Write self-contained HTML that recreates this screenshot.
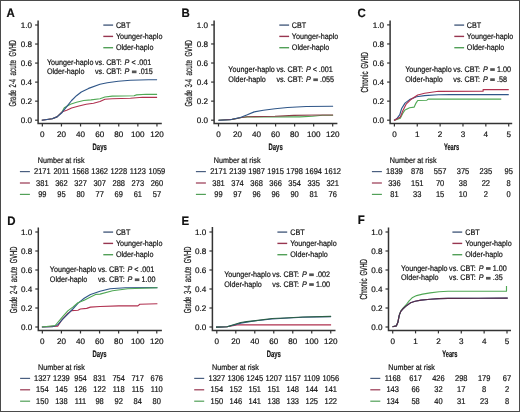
<!DOCTYPE html>
<html><head><meta charset="utf-8"><style>
html,body{margin:0;padding:0;background:#fff;}
body{width:520px;height:412px;overflow:hidden;position:relative;}
svg{position:absolute;left:0;top:0;will-change:transform;}
svg text{text-rendering:geometricPrecision;font-family:"Liberation Sans", sans-serif;fill:#111;stroke:#111;stroke-width:0.18px;}
</style></head><body>
<svg width="520" height="412" viewBox="0 0 520 412">
<rect x="0.5" y="0.5" width="519" height="411" fill="#fff" stroke="#4a4a4a" stroke-width="1"/>
<text transform="translate(6.50 16.50) scale(0.94 1)" font-size="12.2" font-weight="bold" fill="#111" stroke-width="0.3">A</text>
<path d="M38.10 20.60V123.50H161.80" fill="none" stroke="#333" stroke-width="1.5"/>
<path d="M35.10 120.20H38.10" stroke="#333" stroke-width="1.2"/>
<text transform="translate(32.10 123.00) scale(1.07 1.05)" font-size="7.6" text-anchor="end" >0.0</text>
<path d="M35.10 101.16H38.10" stroke="#333" stroke-width="1.2"/>
<text transform="translate(32.10 103.96) scale(1.07 1.05)" font-size="7.6" text-anchor="end" >0.2</text>
<path d="M35.10 82.12H38.10" stroke="#333" stroke-width="1.2"/>
<text transform="translate(32.10 84.92) scale(1.07 1.05)" font-size="7.6" text-anchor="end" >0.4</text>
<path d="M35.10 63.08H38.10" stroke="#333" stroke-width="1.2"/>
<text transform="translate(32.10 65.88) scale(1.07 1.05)" font-size="7.6" text-anchor="end" >0.6</text>
<path d="M35.10 44.04H38.10" stroke="#333" stroke-width="1.2"/>
<text transform="translate(32.10 46.84) scale(1.07 1.05)" font-size="7.6" text-anchor="end" >0.8</text>
<path d="M35.10 25.00H38.10" stroke="#333" stroke-width="1.2"/>
<text transform="translate(32.10 27.80) scale(1.07 1.05)" font-size="7.6" text-anchor="end" >1.0</text>
<path d="M42.35 123.50V126.50" stroke="#333" stroke-width="1.2"/>
<text transform="translate(42.35 137.10) scale(1.07 1.05)" font-size="7.6" text-anchor="middle" >0</text>
<path d="M61.45 123.50V126.50" stroke="#333" stroke-width="1.2"/>
<text transform="translate(61.45 137.10) scale(1.07 1.05)" font-size="7.6" text-anchor="middle" >20</text>
<path d="M80.55 123.50V126.50" stroke="#333" stroke-width="1.2"/>
<text transform="translate(80.55 137.10) scale(1.07 1.05)" font-size="7.6" text-anchor="middle" >40</text>
<path d="M99.65 123.50V126.50" stroke="#333" stroke-width="1.2"/>
<text transform="translate(99.65 137.10) scale(1.07 1.05)" font-size="7.6" text-anchor="middle" >60</text>
<path d="M118.75 123.50V126.50" stroke="#333" stroke-width="1.2"/>
<text transform="translate(118.75 137.10) scale(1.07 1.05)" font-size="7.6" text-anchor="middle" >80</text>
<path d="M137.85 123.50V126.50" stroke="#333" stroke-width="1.2"/>
<text transform="translate(137.85 137.10) scale(1.07 1.05)" font-size="7.6" text-anchor="middle" >100</text>
<path d="M156.95 123.50V126.50" stroke="#333" stroke-width="1.2"/>
<text transform="translate(156.95 137.10) scale(1.07 1.05)" font-size="7.6" text-anchor="middle" >120</text>
<text transform="translate(99.65 150.10) scale(0.638 1)" font-size="9.3" font-weight="bold" text-anchor="middle" stroke-width="0.15">Days</text>
<text transform="translate(16.00 48.25) rotate(-90) scale(0.558 1)" font-size="10.2" text-anchor="middle" stroke-width="0.65">GVHD</text>
<text transform="translate(16.00 67.80) rotate(-90) scale(0.617 1)" font-size="10.2" text-anchor="middle" stroke-width="0.65">acute</text>
<text transform="translate(16.00 83.15) rotate(-90) scale(0.578 1)" font-size="10.2" text-anchor="middle" stroke-width="0.65">2-4</text>
<text transform="translate(16.00 98.25) rotate(-90) scale(0.578 1)" font-size="10.2" text-anchor="middle" stroke-width="0.65">Grade</text>
<path d="M103.30 25.10H113.10" stroke="#4a5f80" stroke-width="1.4"/>
<text transform="translate(115.90 27.60) scale(1.0 1.12)" font-size="7.2" text-anchor="start" >CBT</text>
<path d="M103.30 36.40H113.10" stroke="#983650" stroke-width="1.4"/>
<text transform="translate(115.90 38.90) scale(1.0 1.12)" font-size="7.2" text-anchor="start" >Younger-haplo</text>
<path d="M103.30 47.70H113.10" stroke="#52a058" stroke-width="1.4"/>
<text transform="translate(115.90 50.20) scale(1.0 1.12)" font-size="7.2" text-anchor="start" >Older-haplo</text>
<text transform="translate(46.90 64.50) scale(1.0 1.12)" font-size="7.2" text-anchor="start" >Younger-haplo</text>
<text transform="translate(95.00 64.50) scale(1.0 1.12)" font-size="7.2" text-anchor="start" >vs. CBT:</text>
<text transform="translate(124.60 64.50) scale(1.0 1.12)" font-size="7.2" text-anchor="start" font-style="italic">P</text>
<text transform="translate(131.40 64.50) scale(1.0 1.12)" font-size="7.2" text-anchor="start" >&lt;</text>
<text transform="translate(137.30 64.50) scale(1.0 1.12)" font-size="7.2" text-anchor="start" >.001</text>
<text transform="translate(46.90 74.00) scale(1.0 1.12)" font-size="7.2" text-anchor="start" >Older-haplo</text>
<text transform="translate(95.00 74.00) scale(1.0 1.12)" font-size="7.2" text-anchor="start" >vs. CBT:</text>
<text transform="translate(124.60 74.00) scale(1.0 1.12)" font-size="7.2" text-anchor="start" font-style="italic">P</text>
<rect x="131.90" y="70.50" width="4.6" height="2.7" fill="#555"/>
<text transform="translate(138.70 74.00) scale(1.0 1.12)" font-size="7.2" text-anchor="start" >.015</text>
<text transform="translate(37.80 162.80) scale(1.0 1.12)" font-size="7.2" text-anchor="start" >Number at risk</text>
<path d="M19.90 171.60H29.90" stroke="#4a5f80" stroke-width="1.2"/>
<text transform="translate(42.35 174.20) scale(1.0 1.12)" font-size="7.5" text-anchor="middle" >2171</text>
<text transform="translate(61.45 174.20) scale(1.0 1.12)" font-size="7.5" text-anchor="middle" >2011</text>
<text transform="translate(80.55 174.20) scale(1.0 1.12)" font-size="7.5" text-anchor="middle" >1568</text>
<text transform="translate(99.65 174.20) scale(1.0 1.12)" font-size="7.5" text-anchor="middle" >1362</text>
<text transform="translate(118.75 174.20) scale(1.0 1.12)" font-size="7.5" text-anchor="middle" >1228</text>
<text transform="translate(137.85 174.20) scale(1.0 1.12)" font-size="7.5" text-anchor="middle" >1123</text>
<text transform="translate(156.95 174.20) scale(1.0 1.12)" font-size="7.5" text-anchor="middle" >1059</text>
<path d="M19.90 183.00H29.90" stroke="#983650" stroke-width="1.2"/>
<text transform="translate(42.35 185.60) scale(1.0 1.12)" font-size="7.5" text-anchor="middle" >381</text>
<text transform="translate(61.45 185.60) scale(1.0 1.12)" font-size="7.5" text-anchor="middle" >362</text>
<text transform="translate(80.55 185.60) scale(1.0 1.12)" font-size="7.5" text-anchor="middle" >327</text>
<text transform="translate(99.65 185.60) scale(1.0 1.12)" font-size="7.5" text-anchor="middle" >307</text>
<text transform="translate(118.75 185.60) scale(1.0 1.12)" font-size="7.5" text-anchor="middle" >288</text>
<text transform="translate(137.85 185.60) scale(1.0 1.12)" font-size="7.5" text-anchor="middle" >273</text>
<text transform="translate(156.95 185.60) scale(1.0 1.12)" font-size="7.5" text-anchor="middle" >260</text>
<path d="M19.90 194.40H29.90" stroke="#52a058" stroke-width="1.2"/>
<text transform="translate(42.35 197.00) scale(1.0 1.12)" font-size="7.5" text-anchor="middle" >99</text>
<text transform="translate(61.45 197.00) scale(1.0 1.12)" font-size="7.5" text-anchor="middle" >95</text>
<text transform="translate(80.55 197.00) scale(1.0 1.12)" font-size="7.5" text-anchor="middle" >80</text>
<text transform="translate(99.65 197.00) scale(1.0 1.12)" font-size="7.5" text-anchor="middle" >77</text>
<text transform="translate(118.75 197.00) scale(1.0 1.12)" font-size="7.5" text-anchor="middle" >69</text>
<text transform="translate(137.85 197.00) scale(1.0 1.12)" font-size="7.5" text-anchor="middle" >61</text>
<text transform="translate(156.95 197.00) scale(1.0 1.12)" font-size="7.5" text-anchor="middle" >57</text>
<path d="M41.80 120.20 L52.20 118.70 L57.00 116.90 L61.90 112.20 L64.30 107.80 L70.40 104.20 L76.50 102.30 L83.70 100.50 L91.00 99.90 L100.00 98.80 L104.90 97.00 L112.20 96.10 L134.00 95.80 L136.50 94.90 L146.20 94.30 L157.10 94.30" fill="none" stroke="#50a855" stroke-width="1.15" stroke-linejoin="round"/>
<path d="M41.80 120.20 L52.20 118.70 L57.00 116.90 L61.90 112.20 L63.10 111.50 L66.70 110.20 L71.60 108.00 L78.90 106.00 L86.20 104.20 L93.50 103.20 L100.00 101.50 L104.90 99.20 L112.20 98.80 L130.40 98.20 L142.50 97.30 L157.10 97.30" fill="none" stroke="#b0304f" stroke-width="1.15" stroke-linejoin="round"/>
<path d="M41.80 120.20 L52.20 118.70 L57.00 116.90 L61.90 112.70 L66.70 106.60 L71.60 100.50 L76.50 95.70 L81.30 92.00 L88.60 88.40 L100.00 84.20 L107.30 82.80 L118.20 81.20 L130.40 80.30 L148.60 79.70 L157.10 79.70" fill="none" stroke="#2f5688" stroke-width="1.15" stroke-linejoin="round"/>
<text transform="translate(181.40 16.80) scale(0.94 1)" font-size="12.2" font-weight="bold" fill="#111" stroke-width="0.3">B</text>
<path d="M214.10 20.40V123.50H337.40" fill="none" stroke="#333" stroke-width="1.5"/>
<path d="M211.10 120.20H214.10" stroke="#333" stroke-width="1.2"/>
<text transform="translate(208.10 123.00) scale(1.07 1.05)" font-size="7.6" text-anchor="end" >0.0</text>
<path d="M211.10 101.14H214.10" stroke="#333" stroke-width="1.2"/>
<text transform="translate(208.10 103.94) scale(1.07 1.05)" font-size="7.6" text-anchor="end" >0.2</text>
<path d="M211.10 82.08H214.10" stroke="#333" stroke-width="1.2"/>
<text transform="translate(208.10 84.88) scale(1.07 1.05)" font-size="7.6" text-anchor="end" >0.4</text>
<path d="M211.10 63.02H214.10" stroke="#333" stroke-width="1.2"/>
<text transform="translate(208.10 65.82) scale(1.07 1.05)" font-size="7.6" text-anchor="end" >0.6</text>
<path d="M211.10 43.96H214.10" stroke="#333" stroke-width="1.2"/>
<text transform="translate(208.10 46.76) scale(1.07 1.05)" font-size="7.6" text-anchor="end" >0.8</text>
<path d="M211.10 24.90H214.10" stroke="#333" stroke-width="1.2"/>
<text transform="translate(208.10 27.70) scale(1.07 1.05)" font-size="7.6" text-anchor="end" >1.0</text>
<path d="M218.50 123.50V126.50" stroke="#333" stroke-width="1.2"/>
<text transform="translate(218.50 137.10) scale(1.07 1.05)" font-size="7.6" text-anchor="middle" >0</text>
<path d="M237.53 123.50V126.50" stroke="#333" stroke-width="1.2"/>
<text transform="translate(237.53 137.10) scale(1.07 1.05)" font-size="7.6" text-anchor="middle" >20</text>
<path d="M256.56 123.50V126.50" stroke="#333" stroke-width="1.2"/>
<text transform="translate(256.56 137.10) scale(1.07 1.05)" font-size="7.6" text-anchor="middle" >40</text>
<path d="M275.59 123.50V126.50" stroke="#333" stroke-width="1.2"/>
<text transform="translate(275.59 137.10) scale(1.07 1.05)" font-size="7.6" text-anchor="middle" >60</text>
<path d="M294.62 123.50V126.50" stroke="#333" stroke-width="1.2"/>
<text transform="translate(294.62 137.10) scale(1.07 1.05)" font-size="7.6" text-anchor="middle" >80</text>
<path d="M313.65 123.50V126.50" stroke="#333" stroke-width="1.2"/>
<text transform="translate(313.65 137.10) scale(1.07 1.05)" font-size="7.6" text-anchor="middle" >100</text>
<path d="M332.68 123.50V126.50" stroke="#333" stroke-width="1.2"/>
<text transform="translate(332.68 137.10) scale(1.07 1.05)" font-size="7.6" text-anchor="middle" >120</text>
<text transform="translate(275.59 150.10) scale(0.638 1)" font-size="9.3" font-weight="bold" text-anchor="middle" stroke-width="0.15">Days</text>
<text transform="translate(191.90 48.25) rotate(-90) scale(0.558 1)" font-size="10.2" text-anchor="middle" stroke-width="0.65">GVHD</text>
<text transform="translate(191.90 67.80) rotate(-90) scale(0.617 1)" font-size="10.2" text-anchor="middle" stroke-width="0.65">acute</text>
<text transform="translate(191.90 83.15) rotate(-90) scale(0.578 1)" font-size="10.2" text-anchor="middle" stroke-width="0.65">3-4</text>
<text transform="translate(191.90 98.25) rotate(-90) scale(0.578 1)" font-size="10.2" text-anchor="middle" stroke-width="0.65">Grade</text>
<path d="M279.30 25.10H289.10" stroke="#4a5f80" stroke-width="1.4"/>
<text transform="translate(291.80 27.60) scale(1.0 1.12)" font-size="7.2" text-anchor="start" >CBT</text>
<path d="M279.30 36.40H289.10" stroke="#983650" stroke-width="1.4"/>
<text transform="translate(291.80 38.90) scale(1.0 1.12)" font-size="7.2" text-anchor="start" >Younger-haplo</text>
<path d="M279.30 47.70H289.10" stroke="#52a058" stroke-width="1.4"/>
<text transform="translate(291.80 50.20) scale(1.0 1.12)" font-size="7.2" text-anchor="start" >Older-haplo</text>
<text transform="translate(228.30 72.10) scale(1.0 1.12)" font-size="7.2" text-anchor="start" >Younger-haplo</text>
<text transform="translate(276.40 72.10) scale(1.0 1.12)" font-size="7.2" text-anchor="start" >vs. CBT:</text>
<text transform="translate(306.00 72.10) scale(1.0 1.12)" font-size="7.2" text-anchor="start" font-style="italic">P</text>
<text transform="translate(312.80 72.10) scale(1.0 1.12)" font-size="7.2" text-anchor="start" >&lt;</text>
<text transform="translate(318.70 72.10) scale(1.0 1.12)" font-size="7.2" text-anchor="start" >.001</text>
<text transform="translate(228.30 81.90) scale(1.0 1.12)" font-size="7.2" text-anchor="start" >Older-haplo</text>
<text transform="translate(276.40 81.90) scale(1.0 1.12)" font-size="7.2" text-anchor="start" >vs. CBT:</text>
<text transform="translate(306.00 81.90) scale(1.0 1.12)" font-size="7.2" text-anchor="start" font-style="italic">P</text>
<rect x="313.30" y="78.40" width="4.6" height="2.7" fill="#555"/>
<text transform="translate(320.10 81.90) scale(1.0 1.12)" font-size="7.2" text-anchor="start" >.055</text>
<text transform="translate(213.80 162.80) scale(1.0 1.12)" font-size="7.2" text-anchor="start" >Number at risk</text>
<path d="M195.90 171.60H205.90" stroke="#4a5f80" stroke-width="1.2"/>
<text transform="translate(218.50 174.20) scale(1.0 1.12)" font-size="7.5" text-anchor="middle" >2171</text>
<text transform="translate(237.53 174.20) scale(1.0 1.12)" font-size="7.5" text-anchor="middle" >2139</text>
<text transform="translate(256.56 174.20) scale(1.0 1.12)" font-size="7.5" text-anchor="middle" >1987</text>
<text transform="translate(275.59 174.20) scale(1.0 1.12)" font-size="7.5" text-anchor="middle" >1915</text>
<text transform="translate(294.62 174.20) scale(1.0 1.12)" font-size="7.5" text-anchor="middle" >1798</text>
<text transform="translate(313.65 174.20) scale(1.0 1.12)" font-size="7.5" text-anchor="middle" >1694</text>
<text transform="translate(332.68 174.20) scale(1.0 1.12)" font-size="7.5" text-anchor="middle" >1612</text>
<path d="M195.90 183.00H205.90" stroke="#983650" stroke-width="1.2"/>
<text transform="translate(218.50 185.60) scale(1.0 1.12)" font-size="7.5" text-anchor="middle" >381</text>
<text transform="translate(237.53 185.60) scale(1.0 1.12)" font-size="7.5" text-anchor="middle" >374</text>
<text transform="translate(256.56 185.60) scale(1.0 1.12)" font-size="7.5" text-anchor="middle" >368</text>
<text transform="translate(275.59 185.60) scale(1.0 1.12)" font-size="7.5" text-anchor="middle" >366</text>
<text transform="translate(294.62 185.60) scale(1.0 1.12)" font-size="7.5" text-anchor="middle" >354</text>
<text transform="translate(313.65 185.60) scale(1.0 1.12)" font-size="7.5" text-anchor="middle" >335</text>
<text transform="translate(332.68 185.60) scale(1.0 1.12)" font-size="7.5" text-anchor="middle" >321</text>
<path d="M195.90 194.40H205.90" stroke="#52a058" stroke-width="1.2"/>
<text transform="translate(218.50 197.00) scale(1.0 1.12)" font-size="7.5" text-anchor="middle" >99</text>
<text transform="translate(237.53 197.00) scale(1.0 1.12)" font-size="7.5" text-anchor="middle" >97</text>
<text transform="translate(256.56 197.00) scale(1.0 1.12)" font-size="7.5" text-anchor="middle" >96</text>
<text transform="translate(275.59 197.00) scale(1.0 1.12)" font-size="7.5" text-anchor="middle" >96</text>
<text transform="translate(294.62 197.00) scale(1.0 1.12)" font-size="7.5" text-anchor="middle" >90</text>
<text transform="translate(313.65 197.00) scale(1.0 1.12)" font-size="7.5" text-anchor="middle" >81</text>
<text transform="translate(332.68 197.00) scale(1.0 1.12)" font-size="7.5" text-anchor="middle" >76</text>
<path d="M218.50 120.20 L232.30 119.40 L241.50 117.50 L247.30 116.90 L275.00 116.90 L300.00 116.90 L312.50 116.25 L322.50 115.25 L333.10 115.25" fill="none" stroke="#50a855" stroke-width="1.15" stroke-linejoin="round"/>
<path d="M218.50 120.20 L232.30 119.40 L241.50 117.50 L247.30 116.80 L275.00 116.25 L293.75 115.40 L318.75 115.00 L333.10 115.00" fill="none" stroke="#8a4048" stroke-width="1.15" stroke-linejoin="round"/>
<path d="M218.50 120.20 L230.00 119.80 L240.40 117.50 L247.30 114.80 L254.20 111.90 L263.40 110.20 L275.00 108.70 L287.50 107.50 L306.25 106.50 L333.10 106.25" fill="none" stroke="#2f5688" stroke-width="1.15" stroke-linejoin="round"/>
<text transform="translate(357.40 16.80) scale(0.94 1)" font-size="12.2" font-weight="bold" fill="#111" stroke-width="0.3">C</text>
<path d="M390.10 20.40V123.40H512.20" fill="none" stroke="#333" stroke-width="1.5"/>
<path d="M387.10 120.20H390.10" stroke="#333" stroke-width="1.2"/>
<text transform="translate(384.10 123.00) scale(1.07 1.05)" font-size="7.6" text-anchor="end" >0.0</text>
<path d="M387.10 101.14H390.10" stroke="#333" stroke-width="1.2"/>
<text transform="translate(384.10 103.94) scale(1.07 1.05)" font-size="7.6" text-anchor="end" >0.2</text>
<path d="M387.10 82.08H390.10" stroke="#333" stroke-width="1.2"/>
<text transform="translate(384.10 84.88) scale(1.07 1.05)" font-size="7.6" text-anchor="end" >0.4</text>
<path d="M387.10 63.02H390.10" stroke="#333" stroke-width="1.2"/>
<text transform="translate(384.10 65.82) scale(1.07 1.05)" font-size="7.6" text-anchor="end" >0.6</text>
<path d="M387.10 43.96H390.10" stroke="#333" stroke-width="1.2"/>
<text transform="translate(384.10 46.76) scale(1.07 1.05)" font-size="7.6" text-anchor="end" >0.8</text>
<path d="M387.10 24.90H390.10" stroke="#333" stroke-width="1.2"/>
<text transform="translate(384.10 27.70) scale(1.07 1.05)" font-size="7.6" text-anchor="end" >1.0</text>
<path d="M394.40 123.40V126.40" stroke="#333" stroke-width="1.2"/>
<text transform="translate(394.40 137.00) scale(1.07 1.05)" font-size="7.6" text-anchor="middle" >0</text>
<path d="M417.26 123.40V126.40" stroke="#333" stroke-width="1.2"/>
<text transform="translate(417.26 137.00) scale(1.07 1.05)" font-size="7.6" text-anchor="middle" >1</text>
<path d="M440.12 123.40V126.40" stroke="#333" stroke-width="1.2"/>
<text transform="translate(440.12 137.00) scale(1.07 1.05)" font-size="7.6" text-anchor="middle" >2</text>
<path d="M462.98 123.40V126.40" stroke="#333" stroke-width="1.2"/>
<text transform="translate(462.98 137.00) scale(1.07 1.05)" font-size="7.6" text-anchor="middle" >3</text>
<path d="M485.84 123.40V126.40" stroke="#333" stroke-width="1.2"/>
<text transform="translate(485.84 137.00) scale(1.07 1.05)" font-size="7.6" text-anchor="middle" >4</text>
<path d="M508.70 123.40V126.40" stroke="#333" stroke-width="1.2"/>
<text transform="translate(508.70 137.00) scale(1.07 1.05)" font-size="7.6" text-anchor="middle" >5</text>
<text transform="translate(451.55 150.00) scale(0.614 1)" font-size="9.3" font-weight="bold" text-anchor="middle" stroke-width="0.15">Years</text>
<text transform="translate(368.40 60.40) rotate(-90) scale(0.558 1)" font-size="10.2" text-anchor="middle" stroke-width="0.65">GVHD</text>
<text transform="translate(368.40 82.00) rotate(-90) scale(0.598 1)" font-size="10.2" text-anchor="middle" stroke-width="0.65">Chronic</text>
<path d="M454.30 25.10H464.10" stroke="#4a5f80" stroke-width="1.4"/>
<text transform="translate(466.80 27.60) scale(1.0 1.12)" font-size="7.2" text-anchor="start" >CBT</text>
<path d="M454.30 36.40H464.10" stroke="#983650" stroke-width="1.4"/>
<text transform="translate(466.80 38.90) scale(1.0 1.12)" font-size="7.2" text-anchor="start" >Younger-haplo</text>
<path d="M454.30 47.70H464.10" stroke="#52a058" stroke-width="1.4"/>
<text transform="translate(466.80 50.20) scale(1.0 1.12)" font-size="7.2" text-anchor="start" >Older-haplo</text>
<text transform="translate(405.20 71.70) scale(1.0 1.12)" font-size="7.2" text-anchor="start" >Younger-haplo</text>
<text transform="translate(453.30 71.70) scale(1.0 1.12)" font-size="7.2" text-anchor="start" >vs. CBT:</text>
<text transform="translate(482.90 71.70) scale(1.0 1.12)" font-size="7.2" text-anchor="start" font-style="italic">P</text>
<rect x="490.20" y="68.20" width="4.6" height="2.7" fill="#555"/>
<text transform="translate(497.00 71.70) scale(1.0 1.12)" font-size="7.2" text-anchor="start" >1.00</text>
<text transform="translate(405.20 81.80) scale(1.0 1.12)" font-size="7.2" text-anchor="start" >Older-haplo</text>
<text transform="translate(453.30 81.80) scale(1.0 1.12)" font-size="7.2" text-anchor="start" >vs. CBT:</text>
<text transform="translate(482.90 81.80) scale(1.0 1.12)" font-size="7.2" text-anchor="start" font-style="italic">P</text>
<rect x="490.20" y="78.30" width="4.6" height="2.7" fill="#555"/>
<text transform="translate(497.00 81.80) scale(1.0 1.12)" font-size="7.2" text-anchor="start" >.58</text>
<text transform="translate(389.80 162.80) scale(1.0 1.12)" font-size="7.2" text-anchor="start" >Number at risk</text>
<path d="M371.90 171.60H381.90" stroke="#4a5f80" stroke-width="1.2"/>
<text transform="translate(394.40 174.20) scale(1.0 1.12)" font-size="7.5" text-anchor="middle" >1839</text>
<text transform="translate(417.26 174.20) scale(1.0 1.12)" font-size="7.5" text-anchor="middle" >878</text>
<text transform="translate(440.12 174.20) scale(1.0 1.12)" font-size="7.5" text-anchor="middle" >557</text>
<text transform="translate(462.98 174.20) scale(1.0 1.12)" font-size="7.5" text-anchor="middle" >375</text>
<text transform="translate(485.84 174.20) scale(1.0 1.12)" font-size="7.5" text-anchor="middle" >235</text>
<text transform="translate(508.70 174.20) scale(1.0 1.12)" font-size="7.5" text-anchor="middle" >95</text>
<path d="M371.90 183.00H381.90" stroke="#983650" stroke-width="1.2"/>
<text transform="translate(394.40 185.60) scale(1.0 1.12)" font-size="7.5" text-anchor="middle" >336</text>
<text transform="translate(417.26 185.60) scale(1.0 1.12)" font-size="7.5" text-anchor="middle" >151</text>
<text transform="translate(440.12 185.60) scale(1.0 1.12)" font-size="7.5" text-anchor="middle" >70</text>
<text transform="translate(462.98 185.60) scale(1.0 1.12)" font-size="7.5" text-anchor="middle" >38</text>
<text transform="translate(485.84 185.60) scale(1.0 1.12)" font-size="7.5" text-anchor="middle" >22</text>
<text transform="translate(508.70 185.60) scale(1.0 1.12)" font-size="7.5" text-anchor="middle" >8</text>
<path d="M371.90 194.40H381.90" stroke="#52a058" stroke-width="1.2"/>
<text transform="translate(394.40 197.00) scale(1.0 1.12)" font-size="7.5" text-anchor="middle" >81</text>
<text transform="translate(417.26 197.00) scale(1.0 1.12)" font-size="7.5" text-anchor="middle" >33</text>
<text transform="translate(440.12 197.00) scale(1.0 1.12)" font-size="7.5" text-anchor="middle" >15</text>
<text transform="translate(462.98 197.00) scale(1.0 1.12)" font-size="7.5" text-anchor="middle" >10</text>
<text transform="translate(485.84 197.00) scale(1.0 1.12)" font-size="7.5" text-anchor="middle" >2</text>
<text transform="translate(508.70 197.00) scale(1.0 1.12)" font-size="7.5" text-anchor="middle" >0</text>
<path d="M394.00 120.40 L400.40 118.10 L402.70 113.40 L405.00 110.00 L409.60 107.70 L414.20 107.10 L416.00 103.10 L417.70 100.50 L426.90 100.20 L428.10 99.10 L501.25 99.10" fill="none" stroke="#50a855" stroke-width="1.15" stroke-linejoin="round"/>
<path d="M394.00 120.40 L396.90 118.60 L399.80 114.60 L401.50 108.80 L405.00 103.10 L409.60 99.60 L416.50 96.70 L424.60 95.60 L438.40 94.80 L450.00 94.60 L508.75 94.60" fill="none" stroke="#2f5688" stroke-width="1.15" stroke-linejoin="round"/>
<path d="M394.00 120.40 L400.40 116.90 L402.70 111.10 L406.10 104.20 L410.80 99.60 L417.70 95.00 L424.60 93.30 L438.40 91.30 L483.10 91.25 L483.10 89.60 L508.75 89.60" fill="none" stroke="#b0304f" stroke-width="1.15" stroke-linejoin="round"/>
<text transform="translate(7.20 224.80) scale(0.94 1)" font-size="12.2" font-weight="bold" fill="#111" stroke-width="0.3">D</text>
<path d="M38.30 227.60V330.50H161.90" fill="none" stroke="#333" stroke-width="1.5"/>
<path d="M35.30 327.00H38.30" stroke="#333" stroke-width="1.2"/>
<text transform="translate(32.30 329.80) scale(1.07 1.05)" font-size="7.6" text-anchor="end" >0.0</text>
<path d="M35.30 308.00H38.30" stroke="#333" stroke-width="1.2"/>
<text transform="translate(32.30 310.80) scale(1.07 1.05)" font-size="7.6" text-anchor="end" >0.2</text>
<path d="M35.30 289.00H38.30" stroke="#333" stroke-width="1.2"/>
<text transform="translate(32.30 291.80) scale(1.07 1.05)" font-size="7.6" text-anchor="end" >0.4</text>
<path d="M35.30 270.00H38.30" stroke="#333" stroke-width="1.2"/>
<text transform="translate(32.30 272.80) scale(1.07 1.05)" font-size="7.6" text-anchor="end" >0.6</text>
<path d="M35.30 251.00H38.30" stroke="#333" stroke-width="1.2"/>
<text transform="translate(32.30 253.80) scale(1.07 1.05)" font-size="7.6" text-anchor="end" >0.8</text>
<path d="M35.30 232.00H38.30" stroke="#333" stroke-width="1.2"/>
<text transform="translate(32.30 234.80) scale(1.07 1.05)" font-size="7.6" text-anchor="end" >1.0</text>
<path d="M42.35 330.50V333.50" stroke="#333" stroke-width="1.2"/>
<text transform="translate(42.35 344.10) scale(1.07 1.05)" font-size="7.6" text-anchor="middle" >0</text>
<path d="M61.42 330.50V333.50" stroke="#333" stroke-width="1.2"/>
<text transform="translate(61.42 344.10) scale(1.07 1.05)" font-size="7.6" text-anchor="middle" >20</text>
<path d="M80.49 330.50V333.50" stroke="#333" stroke-width="1.2"/>
<text transform="translate(80.49 344.10) scale(1.07 1.05)" font-size="7.6" text-anchor="middle" >40</text>
<path d="M99.56 330.50V333.50" stroke="#333" stroke-width="1.2"/>
<text transform="translate(99.56 344.10) scale(1.07 1.05)" font-size="7.6" text-anchor="middle" >60</text>
<path d="M118.63 330.50V333.50" stroke="#333" stroke-width="1.2"/>
<text transform="translate(118.63 344.10) scale(1.07 1.05)" font-size="7.6" text-anchor="middle" >80</text>
<path d="M137.70 330.50V333.50" stroke="#333" stroke-width="1.2"/>
<text transform="translate(137.70 344.10) scale(1.07 1.05)" font-size="7.6" text-anchor="middle" >100</text>
<path d="M156.77 330.50V333.50" stroke="#333" stroke-width="1.2"/>
<text transform="translate(156.77 344.10) scale(1.07 1.05)" font-size="7.6" text-anchor="middle" >120</text>
<text transform="translate(99.56 357.10) scale(0.638 1)" font-size="9.3" font-weight="bold" text-anchor="middle" stroke-width="0.15">Days</text>
<text transform="translate(17.00 254.95) rotate(-90) scale(0.558 1)" font-size="10.2" text-anchor="middle" stroke-width="0.65">GVHD</text>
<text transform="translate(17.00 274.50) rotate(-90) scale(0.617 1)" font-size="10.2" text-anchor="middle" stroke-width="0.65">acute</text>
<text transform="translate(17.00 289.85) rotate(-90) scale(0.578 1)" font-size="10.2" text-anchor="middle" stroke-width="0.65">2-4</text>
<text transform="translate(17.00 304.95) rotate(-90) scale(0.578 1)" font-size="10.2" text-anchor="middle" stroke-width="0.65">Grade</text>
<path d="M103.30 232.10H113.10" stroke="#4a5f80" stroke-width="1.4"/>
<text transform="translate(115.90 234.60) scale(1.0 1.12)" font-size="7.2" text-anchor="start" >CBT</text>
<path d="M103.30 243.40H113.10" stroke="#983650" stroke-width="1.4"/>
<text transform="translate(115.90 245.90) scale(1.0 1.12)" font-size="7.2" text-anchor="start" >Younger-haplo</text>
<path d="M103.30 254.70H113.10" stroke="#52a058" stroke-width="1.4"/>
<text transform="translate(115.90 257.20) scale(1.0 1.12)" font-size="7.2" text-anchor="start" >Older-haplo</text>
<text transform="translate(49.80 272.10) scale(1.0 1.12)" font-size="7.2" text-anchor="start" >Younger-haplo</text>
<text transform="translate(97.90 272.10) scale(1.0 1.12)" font-size="7.2" text-anchor="start" >vs. CBT:</text>
<text transform="translate(127.50 272.10) scale(1.0 1.12)" font-size="7.2" text-anchor="start" font-style="italic">P</text>
<text transform="translate(134.30 272.10) scale(1.0 1.12)" font-size="7.2" text-anchor="start" >&lt;</text>
<text transform="translate(140.20 272.10) scale(1.0 1.12)" font-size="7.2" text-anchor="start" >.001</text>
<text transform="translate(49.80 281.90) scale(1.0 1.12)" font-size="7.2" text-anchor="start" >Older-haplo</text>
<text transform="translate(97.90 281.90) scale(1.0 1.12)" font-size="7.2" text-anchor="start" >vs. CBT:</text>
<text transform="translate(127.50 281.90) scale(1.0 1.12)" font-size="7.2" text-anchor="start" font-style="italic">P</text>
<rect x="134.80" y="278.40" width="4.6" height="2.7" fill="#555"/>
<text transform="translate(141.60 281.90) scale(1.0 1.12)" font-size="7.2" text-anchor="start" >1.00</text>
<text transform="translate(38.00 369.60) scale(1.0 1.12)" font-size="7.2" text-anchor="start" >Number at risk</text>
<path d="M20.10 378.40H30.10" stroke="#4a5f80" stroke-width="1.2"/>
<text transform="translate(42.35 381.00) scale(1.0 1.12)" font-size="7.5" text-anchor="middle" >1327</text>
<text transform="translate(61.42 381.00) scale(1.0 1.12)" font-size="7.5" text-anchor="middle" >1239</text>
<text transform="translate(80.49 381.00) scale(1.0 1.12)" font-size="7.5" text-anchor="middle" >954</text>
<text transform="translate(99.56 381.00) scale(1.0 1.12)" font-size="7.5" text-anchor="middle" >831</text>
<text transform="translate(118.63 381.00) scale(1.0 1.12)" font-size="7.5" text-anchor="middle" >754</text>
<text transform="translate(137.70 381.00) scale(1.0 1.12)" font-size="7.5" text-anchor="middle" >717</text>
<text transform="translate(156.77 381.00) scale(1.0 1.12)" font-size="7.5" text-anchor="middle" >676</text>
<path d="M20.10 389.80H30.10" stroke="#983650" stroke-width="1.2"/>
<text transform="translate(42.35 392.40) scale(1.0 1.12)" font-size="7.5" text-anchor="middle" >154</text>
<text transform="translate(61.42 392.40) scale(1.0 1.12)" font-size="7.5" text-anchor="middle" >145</text>
<text transform="translate(80.49 392.40) scale(1.0 1.12)" font-size="7.5" text-anchor="middle" >126</text>
<text transform="translate(99.56 392.40) scale(1.0 1.12)" font-size="7.5" text-anchor="middle" >122</text>
<text transform="translate(118.63 392.40) scale(1.0 1.12)" font-size="7.5" text-anchor="middle" >118</text>
<text transform="translate(137.70 392.40) scale(1.0 1.12)" font-size="7.5" text-anchor="middle" >115</text>
<text transform="translate(156.77 392.40) scale(1.0 1.12)" font-size="7.5" text-anchor="middle" >110</text>
<path d="M20.10 401.20H30.10" stroke="#52a058" stroke-width="1.2"/>
<text transform="translate(42.35 403.80) scale(1.0 1.12)" font-size="7.5" text-anchor="middle" >150</text>
<text transform="translate(61.42 403.80) scale(1.0 1.12)" font-size="7.5" text-anchor="middle" >138</text>
<text transform="translate(80.49 403.80) scale(1.0 1.12)" font-size="7.5" text-anchor="middle" >111</text>
<text transform="translate(99.56 403.80) scale(1.0 1.12)" font-size="7.5" text-anchor="middle" >98</text>
<text transform="translate(118.63 403.80) scale(1.0 1.12)" font-size="7.5" text-anchor="middle" >92</text>
<text transform="translate(137.70 403.80) scale(1.0 1.12)" font-size="7.5" text-anchor="middle" >84</text>
<text transform="translate(156.77 403.80) scale(1.0 1.12)" font-size="7.5" text-anchor="middle" >80</text>
<path d="M41.90 327.00 L57.70 326.10 L61.50 320.40 L67.80 313.50 L71.60 310.60 L77.90 310.30 L80.40 309.00 L86.70 308.40 L90.50 307.10 L100.00 306.50 L118.90 305.90 L137.90 305.90 L139.80 304.20 L157.40 303.70" fill="none" stroke="#b0304f" stroke-width="1.15" stroke-linejoin="round"/>
<path d="M41.90 327.00 L52.60 326.70 L57.70 324.80 L62.70 319.10 L67.80 314.10 L72.80 309.00 L77.90 303.40 L84.20 298.30 L90.50 294.50 L100.00 291.30 L110.10 288.80 L125.30 287.80 L157.40 287.60" fill="none" stroke="#2f5688" stroke-width="1.15" stroke-linejoin="round"/>
<path d="M41.90 327.00 L55.20 325.50 L62.70 316.60 L67.80 310.90 L72.80 307.10 L77.90 302.70 L84.20 300.20 L90.50 297.00 L95.60 294.40 L100.00 294.10 L112.60 290.70 L127.80 288.80 L157.40 287.80" fill="none" stroke="#50a855" stroke-width="1.15" stroke-linejoin="round"/>
<text transform="translate(181.40 224.80) scale(0.94 1)" font-size="12.2" font-weight="bold" fill="#111" stroke-width="0.3">E</text>
<path d="M212.40 227.10V330.50H335.50" fill="none" stroke="#333" stroke-width="1.5"/>
<path d="M209.40 327.00H212.40" stroke="#333" stroke-width="1.2"/>
<text transform="translate(206.40 329.80) scale(1.07 1.05)" font-size="7.6" text-anchor="end" >0.0</text>
<path d="M209.40 308.00H212.40" stroke="#333" stroke-width="1.2"/>
<text transform="translate(206.40 310.80) scale(1.07 1.05)" font-size="7.6" text-anchor="end" >0.2</text>
<path d="M209.40 289.00H212.40" stroke="#333" stroke-width="1.2"/>
<text transform="translate(206.40 291.80) scale(1.07 1.05)" font-size="7.6" text-anchor="end" >0.4</text>
<path d="M209.40 270.00H212.40" stroke="#333" stroke-width="1.2"/>
<text transform="translate(206.40 272.80) scale(1.07 1.05)" font-size="7.6" text-anchor="end" >0.6</text>
<path d="M209.40 251.00H212.40" stroke="#333" stroke-width="1.2"/>
<text transform="translate(206.40 253.80) scale(1.07 1.05)" font-size="7.6" text-anchor="end" >0.8</text>
<path d="M209.40 232.00H212.40" stroke="#333" stroke-width="1.2"/>
<text transform="translate(206.40 234.80) scale(1.07 1.05)" font-size="7.6" text-anchor="end" >1.0</text>
<path d="M216.80 330.50V333.50" stroke="#333" stroke-width="1.2"/>
<text transform="translate(216.80 344.10) scale(1.07 1.05)" font-size="7.6" text-anchor="middle" >0</text>
<path d="M235.79 330.50V333.50" stroke="#333" stroke-width="1.2"/>
<text transform="translate(235.79 344.10) scale(1.07 1.05)" font-size="7.6" text-anchor="middle" >20</text>
<path d="M254.78 330.50V333.50" stroke="#333" stroke-width="1.2"/>
<text transform="translate(254.78 344.10) scale(1.07 1.05)" font-size="7.6" text-anchor="middle" >40</text>
<path d="M273.77 330.50V333.50" stroke="#333" stroke-width="1.2"/>
<text transform="translate(273.77 344.10) scale(1.07 1.05)" font-size="7.6" text-anchor="middle" >60</text>
<path d="M292.76 330.50V333.50" stroke="#333" stroke-width="1.2"/>
<text transform="translate(292.76 344.10) scale(1.07 1.05)" font-size="7.6" text-anchor="middle" >80</text>
<path d="M311.75 330.50V333.50" stroke="#333" stroke-width="1.2"/>
<text transform="translate(311.75 344.10) scale(1.07 1.05)" font-size="7.6" text-anchor="middle" >100</text>
<path d="M330.74 330.50V333.50" stroke="#333" stroke-width="1.2"/>
<text transform="translate(330.74 344.10) scale(1.07 1.05)" font-size="7.6" text-anchor="middle" >120</text>
<text transform="translate(273.77 357.10) scale(0.638 1)" font-size="9.3" font-weight="bold" text-anchor="middle" stroke-width="0.15">Days</text>
<text transform="translate(191.20 254.95) rotate(-90) scale(0.558 1)" font-size="10.2" text-anchor="middle" stroke-width="0.65">GVHD</text>
<text transform="translate(191.20 274.50) rotate(-90) scale(0.617 1)" font-size="10.2" text-anchor="middle" stroke-width="0.65">acute</text>
<text transform="translate(191.20 289.85) rotate(-90) scale(0.578 1)" font-size="10.2" text-anchor="middle" stroke-width="0.65">3-4</text>
<text transform="translate(191.20 304.95) rotate(-90) scale(0.578 1)" font-size="10.2" text-anchor="middle" stroke-width="0.65">Grade</text>
<path d="M277.40 232.10H287.20" stroke="#4a5f80" stroke-width="1.4"/>
<text transform="translate(290.20 234.60) scale(1.0 1.12)" font-size="7.2" text-anchor="start" >CBT</text>
<path d="M277.40 243.40H287.20" stroke="#983650" stroke-width="1.4"/>
<text transform="translate(290.20 245.90) scale(1.0 1.12)" font-size="7.2" text-anchor="start" >Younger-haplo</text>
<path d="M277.40 254.70H287.20" stroke="#52a058" stroke-width="1.4"/>
<text transform="translate(290.20 257.20) scale(1.0 1.12)" font-size="7.2" text-anchor="start" >Older-haplo</text>
<text transform="translate(224.20 276.90) scale(1.0 1.12)" font-size="7.2" text-anchor="start" >Younger-haplo</text>
<text transform="translate(272.30 276.90) scale(1.0 1.12)" font-size="7.2" text-anchor="start" >vs. CBT:</text>
<text transform="translate(301.90 276.90) scale(1.0 1.12)" font-size="7.2" text-anchor="start" font-style="italic">P</text>
<rect x="309.20" y="273.40" width="4.6" height="2.7" fill="#555"/>
<text transform="translate(316.00 276.90) scale(1.0 1.12)" font-size="7.2" text-anchor="start" >.002</text>
<text transform="translate(224.20 286.70) scale(1.0 1.12)" font-size="7.2" text-anchor="start" >Older-haplo</text>
<text transform="translate(272.30 286.70) scale(1.0 1.12)" font-size="7.2" text-anchor="start" >vs. CBT:</text>
<text transform="translate(301.90 286.70) scale(1.0 1.12)" font-size="7.2" text-anchor="start" font-style="italic">P</text>
<rect x="309.20" y="283.20" width="4.6" height="2.7" fill="#555"/>
<text transform="translate(316.00 286.70) scale(1.0 1.12)" font-size="7.2" text-anchor="start" >1.00</text>
<text transform="translate(212.10 369.60) scale(1.0 1.12)" font-size="7.2" text-anchor="start" >Number at risk</text>
<path d="M194.20 378.40H204.20" stroke="#4a5f80" stroke-width="1.2"/>
<text transform="translate(216.80 381.00) scale(1.0 1.12)" font-size="7.5" text-anchor="middle" >1327</text>
<text transform="translate(235.79 381.00) scale(1.0 1.12)" font-size="7.5" text-anchor="middle" >1306</text>
<text transform="translate(254.78 381.00) scale(1.0 1.12)" font-size="7.5" text-anchor="middle" >1245</text>
<text transform="translate(273.77 381.00) scale(1.0 1.12)" font-size="7.5" text-anchor="middle" >1207</text>
<text transform="translate(292.76 381.00) scale(1.0 1.12)" font-size="7.5" text-anchor="middle" >1157</text>
<text transform="translate(311.75 381.00) scale(1.0 1.12)" font-size="7.5" text-anchor="middle" >1109</text>
<text transform="translate(330.74 381.00) scale(1.0 1.12)" font-size="7.5" text-anchor="middle" >1056</text>
<path d="M194.20 389.80H204.20" stroke="#983650" stroke-width="1.2"/>
<text transform="translate(216.80 392.40) scale(1.0 1.12)" font-size="7.5" text-anchor="middle" >154</text>
<text transform="translate(235.79 392.40) scale(1.0 1.12)" font-size="7.5" text-anchor="middle" >152</text>
<text transform="translate(254.78 392.40) scale(1.0 1.12)" font-size="7.5" text-anchor="middle" >151</text>
<text transform="translate(273.77 392.40) scale(1.0 1.12)" font-size="7.5" text-anchor="middle" >151</text>
<text transform="translate(292.76 392.40) scale(1.0 1.12)" font-size="7.5" text-anchor="middle" >148</text>
<text transform="translate(311.75 392.40) scale(1.0 1.12)" font-size="7.5" text-anchor="middle" >144</text>
<text transform="translate(330.74 392.40) scale(1.0 1.12)" font-size="7.5" text-anchor="middle" >141</text>
<path d="M194.20 401.20H204.20" stroke="#52a058" stroke-width="1.2"/>
<text transform="translate(216.80 403.80) scale(1.0 1.12)" font-size="7.5" text-anchor="middle" >150</text>
<text transform="translate(235.79 403.80) scale(1.0 1.12)" font-size="7.5" text-anchor="middle" >146</text>
<text transform="translate(254.78 403.80) scale(1.0 1.12)" font-size="7.5" text-anchor="middle" >141</text>
<text transform="translate(273.77 403.80) scale(1.0 1.12)" font-size="7.5" text-anchor="middle" >138</text>
<text transform="translate(292.76 403.80) scale(1.0 1.12)" font-size="7.5" text-anchor="middle" >133</text>
<text transform="translate(311.75 403.80) scale(1.0 1.12)" font-size="7.5" text-anchor="middle" >125</text>
<text transform="translate(330.74 403.80) scale(1.0 1.12)" font-size="7.5" text-anchor="middle" >122</text>
<path d="M216.00 327.10 L227.00 326.80 L238.50 324.80 L244.30 324.80 L331.10 324.80" fill="none" stroke="#b0304f" stroke-width="1.15" stroke-linejoin="round"/>
<path d="M216.00 327.10 L227.00 326.80 L235.10 324.80 L240.80 323.10 L246.60 322.10 L255.80 320.80 L272.00 319.00 L284.30 318.20 L302.80 317.20 L331.10 316.60" fill="none" stroke="#2f5688" stroke-width="1.15" stroke-linejoin="round"/>
<path d="M216.00 327.10 L227.00 326.80 L235.10 324.30 L240.80 322.50 L246.60 321.60 L255.80 320.60 L272.00 318.50 L284.30 318.00 L302.80 317.00 L331.10 316.40" fill="none" stroke="#2c5f45" stroke-width="1.15" stroke-linejoin="round"/>
<text transform="translate(357.80 224.40) scale(0.94 1)" font-size="12.2" font-weight="bold" fill="#111" stroke-width="0.3">F</text>
<path d="M388.50 227.60V330.40H511.00" fill="none" stroke="#333" stroke-width="1.5"/>
<path d="M385.50 327.00H388.50" stroke="#333" stroke-width="1.2"/>
<text transform="translate(382.50 329.80) scale(1.07 1.05)" font-size="7.6" text-anchor="end" >0.0</text>
<path d="M385.50 308.00H388.50" stroke="#333" stroke-width="1.2"/>
<text transform="translate(382.50 310.80) scale(1.07 1.05)" font-size="7.6" text-anchor="end" >0.2</text>
<path d="M385.50 289.00H388.50" stroke="#333" stroke-width="1.2"/>
<text transform="translate(382.50 291.80) scale(1.07 1.05)" font-size="7.6" text-anchor="end" >0.4</text>
<path d="M385.50 270.00H388.50" stroke="#333" stroke-width="1.2"/>
<text transform="translate(382.50 272.80) scale(1.07 1.05)" font-size="7.6" text-anchor="end" >0.6</text>
<path d="M385.50 251.00H388.50" stroke="#333" stroke-width="1.2"/>
<text transform="translate(382.50 253.80) scale(1.07 1.05)" font-size="7.6" text-anchor="end" >0.8</text>
<path d="M385.50 232.00H388.50" stroke="#333" stroke-width="1.2"/>
<text transform="translate(382.50 234.80) scale(1.07 1.05)" font-size="7.6" text-anchor="end" >1.0</text>
<path d="M392.70 330.40V333.40" stroke="#333" stroke-width="1.2"/>
<text transform="translate(392.70 344.00) scale(1.07 1.05)" font-size="7.6" text-anchor="middle" >0</text>
<path d="M415.56 330.40V333.40" stroke="#333" stroke-width="1.2"/>
<text transform="translate(415.56 344.00) scale(1.07 1.05)" font-size="7.6" text-anchor="middle" >1</text>
<path d="M438.42 330.40V333.40" stroke="#333" stroke-width="1.2"/>
<text transform="translate(438.42 344.00) scale(1.07 1.05)" font-size="7.6" text-anchor="middle" >2</text>
<path d="M461.28 330.40V333.40" stroke="#333" stroke-width="1.2"/>
<text transform="translate(461.28 344.00) scale(1.07 1.05)" font-size="7.6" text-anchor="middle" >3</text>
<path d="M484.14 330.40V333.40" stroke="#333" stroke-width="1.2"/>
<text transform="translate(484.14 344.00) scale(1.07 1.05)" font-size="7.6" text-anchor="middle" >4</text>
<path d="M507.00 330.40V333.40" stroke="#333" stroke-width="1.2"/>
<text transform="translate(507.00 344.00) scale(1.07 1.05)" font-size="7.6" text-anchor="middle" >5</text>
<text transform="translate(449.85 357.00) scale(0.614 1)" font-size="9.3" font-weight="bold" text-anchor="middle" stroke-width="0.15">Years</text>
<text transform="translate(366.60 267.40) rotate(-90) scale(0.558 1)" font-size="10.2" text-anchor="middle" stroke-width="0.65">GVHD</text>
<text transform="translate(366.60 289.00) rotate(-90) scale(0.598 1)" font-size="10.2" text-anchor="middle" stroke-width="0.65">Chronic</text>
<path d="M452.40 232.10H462.20" stroke="#4a5f80" stroke-width="1.4"/>
<text transform="translate(465.20 234.60) scale(1.0 1.12)" font-size="7.2" text-anchor="start" >CBT</text>
<path d="M452.40 243.40H462.20" stroke="#983650" stroke-width="1.4"/>
<text transform="translate(465.20 245.90) scale(1.0 1.12)" font-size="7.2" text-anchor="start" >Younger-haplo</text>
<path d="M452.40 254.70H462.20" stroke="#52a058" stroke-width="1.4"/>
<text transform="translate(465.20 257.20) scale(1.0 1.12)" font-size="7.2" text-anchor="start" >Older-haplo</text>
<text transform="translate(401.00 270.60) scale(1.0 1.12)" font-size="7.2" text-anchor="start" >Younger-haplo</text>
<text transform="translate(449.10 270.60) scale(1.0 1.12)" font-size="7.2" text-anchor="start" >vs. CBT:</text>
<text transform="translate(478.70 270.60) scale(1.0 1.12)" font-size="7.2" text-anchor="start" font-style="italic">P</text>
<rect x="486.00" y="267.10" width="4.6" height="2.7" fill="#555"/>
<text transform="translate(492.80 270.60) scale(1.0 1.12)" font-size="7.2" text-anchor="start" >1.00</text>
<text transform="translate(401.00 280.40) scale(1.0 1.12)" font-size="7.2" text-anchor="start" >Older-haplo</text>
<text transform="translate(449.10 280.40) scale(1.0 1.12)" font-size="7.2" text-anchor="start" >vs. CBT:</text>
<text transform="translate(478.70 280.40) scale(1.0 1.12)" font-size="7.2" text-anchor="start" font-style="italic">P</text>
<rect x="486.00" y="276.90" width="4.6" height="2.7" fill="#555"/>
<text transform="translate(492.80 280.40) scale(1.0 1.12)" font-size="7.2" text-anchor="start" >.35</text>
<text transform="translate(388.20 369.60) scale(1.0 1.12)" font-size="7.2" text-anchor="start" >Number at risk</text>
<path d="M370.30 378.40H380.30" stroke="#4a5f80" stroke-width="1.2"/>
<text transform="translate(392.70 381.00) scale(1.0 1.12)" font-size="7.5" text-anchor="middle" >1168</text>
<text transform="translate(415.56 381.00) scale(1.0 1.12)" font-size="7.5" text-anchor="middle" >617</text>
<text transform="translate(438.42 381.00) scale(1.0 1.12)" font-size="7.5" text-anchor="middle" >426</text>
<text transform="translate(461.28 381.00) scale(1.0 1.12)" font-size="7.5" text-anchor="middle" >298</text>
<text transform="translate(484.14 381.00) scale(1.0 1.12)" font-size="7.5" text-anchor="middle" >179</text>
<text transform="translate(507.00 381.00) scale(1.0 1.12)" font-size="7.5" text-anchor="middle" >67</text>
<path d="M370.30 389.80H380.30" stroke="#983650" stroke-width="1.2"/>
<text transform="translate(392.70 392.40) scale(1.0 1.12)" font-size="7.5" text-anchor="middle" >143</text>
<text transform="translate(415.56 392.40) scale(1.0 1.12)" font-size="7.5" text-anchor="middle" >66</text>
<text transform="translate(438.42 392.40) scale(1.0 1.12)" font-size="7.5" text-anchor="middle" >32</text>
<text transform="translate(461.28 392.40) scale(1.0 1.12)" font-size="7.5" text-anchor="middle" >17</text>
<text transform="translate(484.14 392.40) scale(1.0 1.12)" font-size="7.5" text-anchor="middle" >8</text>
<text transform="translate(507.00 392.40) scale(1.0 1.12)" font-size="7.5" text-anchor="middle" >2</text>
<path d="M370.30 401.20H380.30" stroke="#52a058" stroke-width="1.2"/>
<text transform="translate(392.70 403.80) scale(1.0 1.12)" font-size="7.5" text-anchor="middle" >134</text>
<text transform="translate(415.56 403.80) scale(1.0 1.12)" font-size="7.5" text-anchor="middle" >58</text>
<text transform="translate(438.42 403.80) scale(1.0 1.12)" font-size="7.5" text-anchor="middle" >40</text>
<text transform="translate(461.28 403.80) scale(1.0 1.12)" font-size="7.5" text-anchor="middle" >31</text>
<text transform="translate(484.14 403.80) scale(1.0 1.12)" font-size="7.5" text-anchor="middle" >23</text>
<text transform="translate(507.00 403.80) scale(1.0 1.12)" font-size="7.5" text-anchor="middle" >8</text>
<path d="M392.50 326.80 L396.30 325.90 L397.80 322.60 L399.30 315.10 L400.80 311.00 L403.00 308.20 L406.00 305.00 L409.10 300.80 L412.10 297.80 L416.60 295.60 L422.60 294.10 L430.10 292.90 L439.10 291.80 L448.00 291.20 L506.50 291.20 L506.50 286.00" fill="none" stroke="#50a855" stroke-width="1.15" stroke-linejoin="round"/>
<path d="M392.50 326.80 L396.30 325.90 L397.80 322.60 L399.30 315.10 L400.80 311.40 L403.00 308.80 L406.00 306.10 L410.60 302.80 L415.10 301.30 L421.10 300.10 L430.10 299.30 L439.10 298.60 L448.00 298.40 L478.80 298.20 L507.70 298.10" fill="none" stroke="#2f5688" stroke-width="1.15" stroke-linejoin="round"/>
<path d="M392.50 326.80 L396.30 325.90 L397.80 322.60 L399.30 315.10 L400.80 311.40 L403.00 308.80 L406.00 306.10 L410.60 302.80 L415.10 301.30 L421.10 300.10 L430.10 299.30 L439.10 298.60 L448.00 298.40 L478.80 298.20 L507.70 298.10" fill="none" stroke="#5a2a48" stroke-width="1.15" stroke-linejoin="round"/>
</svg>
</body></html>
